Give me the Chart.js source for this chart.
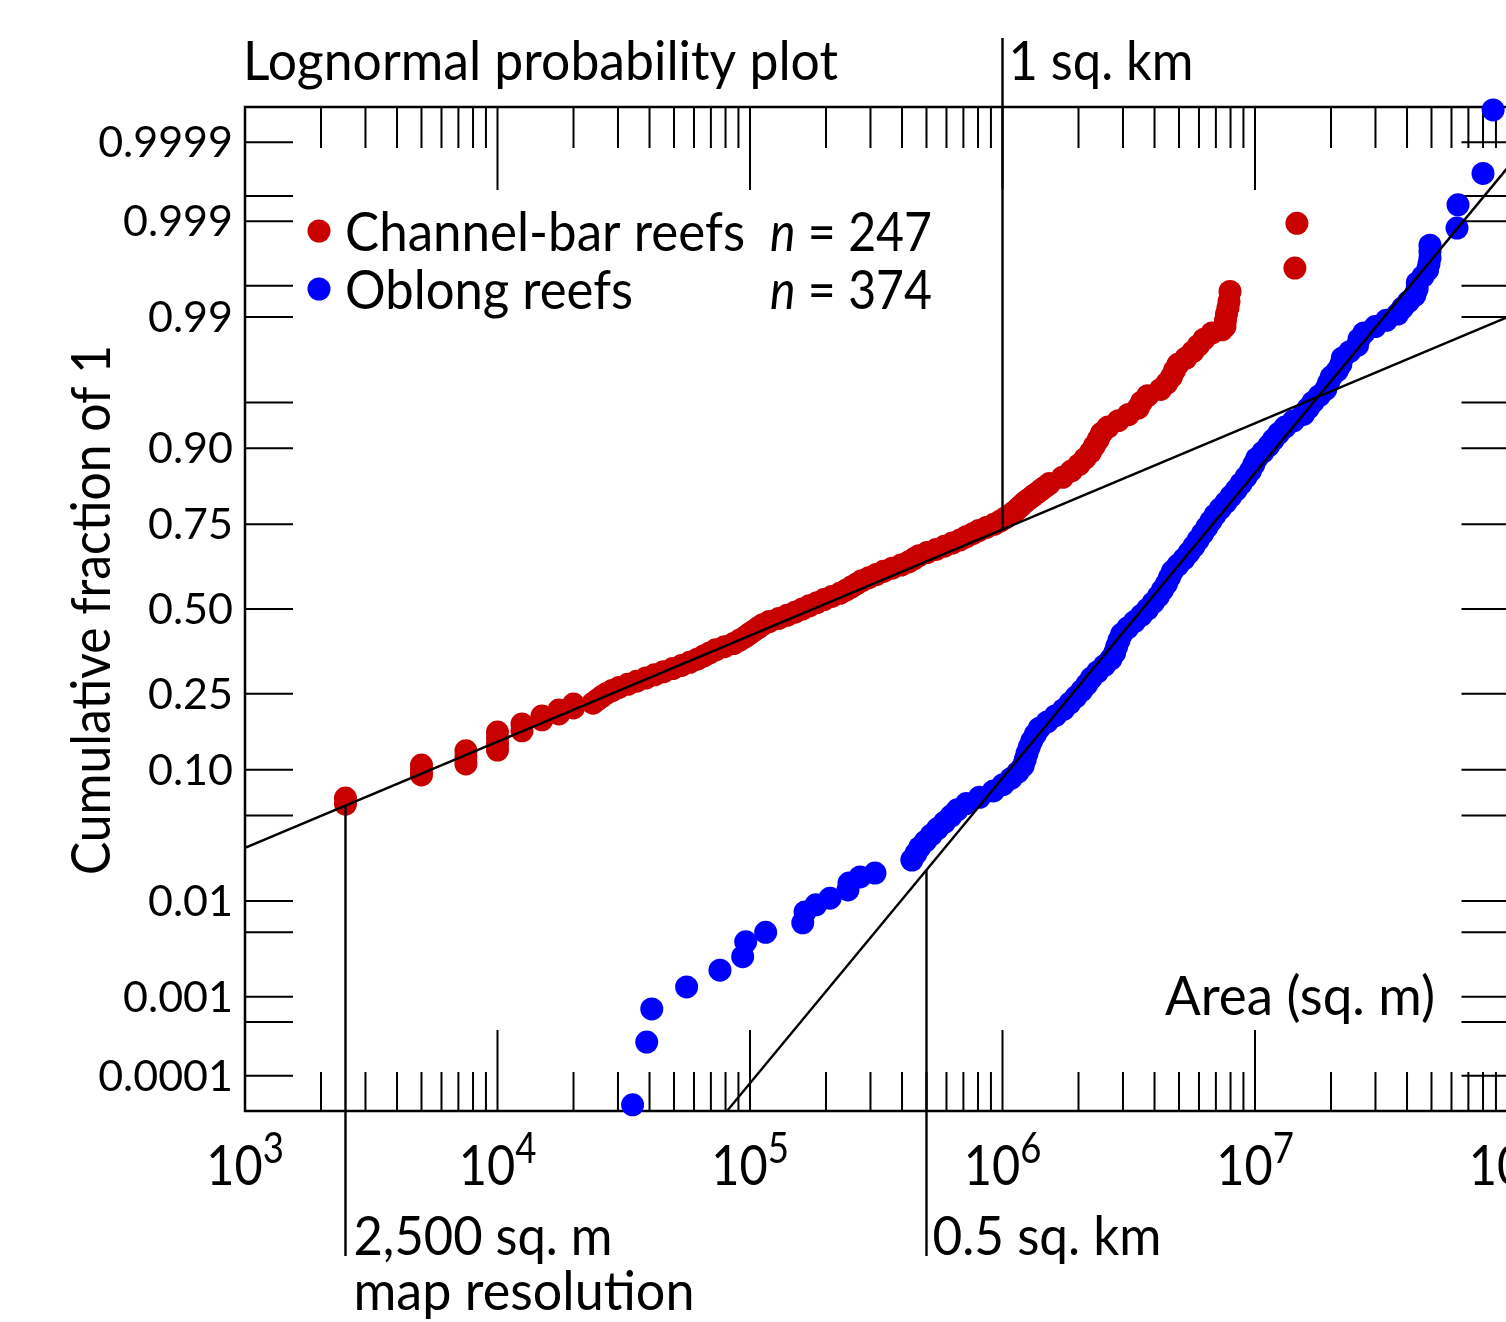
<!DOCTYPE html>
<html>
<head>
<meta charset="utf-8">
<title>Lognormal probability plot</title>
<script src="https://cdn.jsdelivr.net/npm/chart.js@4.4.1/dist/chart.umd.min.js"></script>
<style>
  html, body { margin: 0; padding: 0; background: #fff; overflow: hidden; }
  canvas { display: block; }
</style>
</head>
<body>
<canvas id="plot" width="1560" height="1322"></canvas>
<script>
// reef areas as log10(sq. m), paired with cumulative fraction
const seriesNames = ['Channel-bar reefs', 'Oblong reefs'];
const seriesCounts = [247, 374];

const redLogArea = [
  3.398, 3.398, 3.699, 3.699, 3.699, 3.875, 3.875, 3.875, 4.000, 4.000, 4.000, 4.000,
  4.097, 4.097, 4.176, 4.176, 4.243, 4.243, 4.301, 4.301,
  4.378, 4.395, 4.412, 4.430, 4.454, 4.481, 4.516, 4.551, 4.587, 4.622,
  4.657, 4.694, 4.729, 4.761, 4.791, 4.816, 4.840, 4.864, 4.899, 4.935,
  4.958, 4.979, 4.996, 5.014, 5.032, 5.050, 5.076, 5.114, 5.147, 5.178,
  5.207, 5.235, 5.265, 5.293, 5.324, 5.356, 5.380, 5.401, 5.422, 5.442,
  5.471, 5.500, 5.529, 5.563, 5.598, 5.628, 5.649, 5.669, 5.701, 5.737,
  5.770, 5.801, 5.832, 5.856, 5.882, 5.906, 5.936, 5.966, 5.990, 6.010,
  6.030, 6.047, 6.061, 6.074, 6.088, 6.104, 6.120, 6.137, 6.153, 6.170,
  6.186, 6.238, 6.273, 6.303, 6.327, 6.349, 6.364, 6.379, 6.392, 6.418,
  6.459, 6.499, 6.537, 6.551, 6.575, 6.626, 6.651, 6.669, 6.681, 6.695,
  6.727, 6.754, 6.776, 6.798, 6.830, 6.869, 6.881, 6.883, 6.887, 6.893,
  6.897, 6.901, 7.158, 7.166
];
const redFraction = [
  0.0601, 0.0660, 0.0930, 0.0997, 0.1069, 0.1085, 0.1199, 0.1292, 0.1306, 0.1409, 0.1519, 0.1635,
  0.1660, 0.1799, 0.1885, 0.1968, 0.2015, 0.2104, 0.2152, 0.2245,
  0.2266, 0.2343, 0.2420, 0.2499, 0.2579, 0.2661, 0.2743, 0.2827, 0.2912, 0.2999,
  0.3085, 0.3175, 0.3264, 0.3355, 0.3446, 0.3539, 0.3632, 0.3726, 0.3821, 0.3917,
  0.4013, 0.4110, 0.4207, 0.4306, 0.4404, 0.4503, 0.4602, 0.4701, 0.4801, 0.4900,
  0.5000, 0.5100, 0.5199, 0.5299, 0.5398, 0.5497, 0.5596, 0.5694, 0.5793, 0.5890,
  0.5987, 0.6083, 0.6179, 0.6274, 0.6368, 0.6461, 0.6554, 0.6645, 0.6736, 0.6826,
  0.6915, 0.7002, 0.7088, 0.7173, 0.7258, 0.7340, 0.7422, 0.7501, 0.7580, 0.7657,
  0.7734, 0.7808, 0.7881, 0.7952, 0.8023, 0.8091, 0.8159, 0.8224, 0.8289, 0.8351,
  0.8413, 0.8531, 0.8643, 0.8749, 0.8849, 0.8944, 0.9032, 0.9115, 0.9192, 0.9265,
  0.9332, 0.9394, 0.9452, 0.9505, 0.9554, 0.9599, 0.9641, 0.9678, 0.9713, 0.9744,
  0.97725, 0.97982, 0.98214, 0.98422, 0.98610, 0.98694, 0.98778, 0.98928, 0.99061, 0.99180,
  0.99286, 0.99430, 0.99670, 0.99894
];

const blueLogArea = [
  4.535, 4.591, 4.611, 4.749, 4.881, 4.971, 4.983, 5.062, 5.209, 5.218,
  5.261, 5.317, 5.388, 5.392, 5.436, 5.495,
  5.641, 5.657, 5.672, 5.695, 5.718, 5.743, 5.770, 5.796, 5.821, 5.857,
  5.909, 5.964, 6.002, 6.034, 6.061, 6.082, 6.090, 6.097, 6.106, 6.116,
  6.130, 6.146, 6.177, 6.210, 6.242, 6.267, 6.291, 6.314, 6.334, 6.352,
  6.377, 6.404, 6.429, 6.444, 6.452, 6.461, 6.472, 6.496, 6.523, 6.550,
  6.575, 6.597, 6.617, 6.633, 6.649, 6.661, 6.673, 6.695, 6.719, 6.739,
  6.758, 6.775, 6.792, 6.809, 6.825, 6.842, 6.863, 6.885, 6.905, 6.926,
  6.945, 6.964, 6.982, 6.995, 7.007, 7.031, 7.054, 7.073, 7.094, 7.119,
  7.153, 7.192, 7.211, 7.230, 7.255, 7.280, 7.291, 7.302, 7.326, 7.340,
  7.346, 7.375, 7.406, 7.412, 7.431, 7.476, 7.520, 7.565, 7.585, 7.608,
  7.633, 7.642, 7.643, 7.665, 7.683, 7.689, 7.693, 7.693, 7.693,
  7.800, 7.804, 7.903, 7.943
];
const blueFraction = [
  0.000039, 0.00028, 0.00072, 0.0013, 0.0020, 0.0028, 0.0040, 0.0050, 0.0062, 0.0079,
  0.0092, 0.0106, 0.0126, 0.0145, 0.0164, 0.0177,
  0.02275, 0.02559, 0.02872, 0.03216, 0.03593, 0.04006, 0.04457, 0.04947, 0.05480, 0.06057,
  0.06681, 0.07353, 0.08076, 0.08851, 0.09680, 0.10565, 0.11507, 0.12507, 0.13567, 0.14686,
  0.15866, 0.17106, 0.18406, 0.19766, 0.21186, 0.22663, 0.24196, 0.25785, 0.27425, 0.29116,
  0.30854, 0.32636, 0.34458, 0.36317, 0.38209, 0.40129, 0.42074, 0.44038, 0.46017, 0.48006,
  0.50000, 0.51994, 0.53983, 0.55962, 0.57926, 0.59871, 0.61791, 0.63683, 0.65542, 0.67364,
  0.69146, 0.70884, 0.72575, 0.74215, 0.75804, 0.77337, 0.78814, 0.80234, 0.81594, 0.82894,
  0.84134, 0.85314, 0.86433, 0.87493, 0.88493, 0.89435, 0.90320, 0.91149, 0.91924, 0.92647,
  0.93319, 0.93943, 0.94520, 0.95053, 0.95543, 0.95994, 0.96407, 0.96784, 0.97128, 0.97441,
  0.97725, 0.97982, 0.98214, 0.98422, 0.98610, 0.98778, 0.98928, 0.99061, 0.99180, 0.99286,
  0.99379, 0.99461, 0.99534, 0.99598, 0.99653, 0.99702, 0.99744, 0.99781, 0.99813,
  0.99880, 0.99936, 0.99974, 0.999965
];

// lognormal fit lines, end points
const redFitLogArea = [3, 8];
const redFitFraction = [0.0285, 0.99];
const blueFitLogArea = [4.909, 8];
const blueFitFraction = [0.0000317, 0.99978];

// axes
const xDecades = [3, 4, 5, 6, 7, 8];
const yLabelled = [0.0001, 0.001, 0.01, 0.10, 0.25, 0.50, 0.75, 0.90, 0.99, 0.999, 0.9999];
const yLabelText = ['0.0001', '0.001', '0.01', '0.10', '0.25', '0.50', '0.75', '0.90', '0.99', '0.999', '0.9999'];
const yUnlabelled = [0.0005, 0.005, 0.05, 0.95, 0.995, 0.9995];

// reference areas marked with leader lines
const markerAreas = [2500, 500000, 1000000];
const markerText = [['2,500 sq. m', 'map resolution'], ['0.5 sq. km'], ['1 sq. km']];

const RED = '#c80000';
const BLUE = '#0000ff';
const FONT = 'Lato, "Open Sans", sans-serif';
const LINE_W = 2.4;

// inverse standard normal CDF (Acklam)
function probit(p) {
  const a = [-3.969683028665376e+01, 2.209460984245205e+02, -2.759285104469687e+02,
             1.383577518672690e+02, -3.066479806614716e+01, 2.506628277459239e+00];
  const b = [-5.447609879822406e+01, 1.615858368580409e+02, -1.556989798598866e+02,
             6.680131188771972e+01, -1.328068155288572e+01];
  const c = [-7.784894002430293e-03, -3.223964580411365e-01, -2.400758277161838e+00,
             -2.549732539343734e+00, 4.374664141464968e+00, 2.938163982698783e+00];
  const d = [7.784695709041462e-03, 3.224671290700398e-01, 2.445134137142996e+00,
             3.754408661907416e+00];
  const lo = 0.02425;
  if (p < lo) {
    const q = Math.sqrt(-2 * Math.log(p));
    return (((((c[0] * q + c[1]) * q + c[2]) * q + c[3]) * q + c[4]) * q + c[5]) /
           ((((d[0] * q + d[1]) * q + d[2]) * q + d[3]) * q + 1);
  }
  if (p > 1 - lo) {
    const q = Math.sqrt(-2 * Math.log(1 - p));
    return -(((((c[0] * q + c[1]) * q + c[2]) * q + c[3]) * q + c[4]) * q + c[5]) /
            ((((d[0] * q + d[1]) * q + d[2]) * q + d[3]) * q + 1);
  }
  const q = p - 0.5, r = q * q;
  return (((((a[0] * r + a[1]) * r + a[2]) * r + a[3]) * r + a[4]) * r + a[5]) * q /
         (((((b[0] * r + b[1]) * r + b[2]) * r + b[3]) * r + b[4]) * r + 1);
}

const toPoints = (logs, fracs) => logs.map((v, i) => ({ x: 10 ** v, y: probit(fracs[i]) }));

// normal score of a fit line at a given area
function fitScore(logs, fracs, area) {
  const z0 = probit(fracs[0]), z1 = probit(fracs[1]);
  const t = (Math.log10(area) - logs[0]) / (logs[1] - logs[0]);
  return z0 + t * (z1 - z0);
}

const fontFor = (r, size) => (r.italic ? 'italic ' : '') + size + 'px ' + FONT;

// text squeezed horizontally into a given width
function fitText(ctx, runs, x, y, width, size) {
  let total = 0;
  for (const r of runs) {
    ctx.font = fontFor(r, size);
    r.w = ctx.measureText(r.text).width;
    total += r.w;
  }
  ctx.save();
  ctx.translate(x, y);
  ctx.scale(width / total, 1);
  ctx.textAlign = 'left';
  ctx.textBaseline = 'alphabetic';
  let cx = 0;
  for (const r of runs) {
    ctx.font = fontFor(r, size);
    ctx.fillText(r.text, cx, 0);
    cx += r.w;
  }
  ctx.restore();
}

const frame = {
  id: 'frame',
  beforeDatasetsDraw(chart) {
    const { ctx, scales: { x, y } } = chart;
    ctx.save();
    ctx.strokeStyle = '#000';
    ctx.lineWidth = 2.5;
    ctx.beginPath();
    ctx.moveTo(x.right + 2, y.top);
    ctx.lineTo(x.left, y.top);
    ctx.lineTo(x.left, y.bottom);
    ctx.lineTo(x.right + 2, y.bottom);
    ctx.stroke();

    ctx.lineWidth = 2;
    ctx.beginPath();
    // probability ticks on both sides
    for (const f of yLabelled.concat(yUnlabelled)) {
      const py = y.getPixelForValue(probit(f));
      ctx.moveTo(x.left, py); ctx.lineTo(x.left + 48, py);
      ctx.moveTo(x.right - 46, py); ctx.lineTo(x.right, py);
    }
    // log ticks, top and bottom
    for (const d of xDecades) {
      for (let k = 1; k <= 9; k++) {
        if (d === xDecades[xDecades.length - 1] && k > 1) break;
        const px = x.getPixelForValue(k * 10 ** d);
        const major = k === 1;
        if (major && d === xDecades[0]) continue;
        ctx.moveTo(px, y.bottom); ctx.lineTo(px, y.bottom - (major ? 81 : 39));
        ctx.moveTo(px, y.top); ctx.lineTo(px, y.top + (major ? 83 : 41));
      }
    }
    ctx.stroke();

    // probability labels
    ctx.fillStyle = '#000';
    ctx.font = '43px ' + FONT;
    ctx.textAlign = 'right';
    ctx.textBaseline = 'alphabetic';
    yLabelled.forEach((f, i) => {
      ctx.fillText(yLabelText[i], x.left - 12, y.getPixelForValue(probit(f)) + 15);
    });

    // decade labels 10^n
    for (const d of xDecades) {
      const px = x.getPixelForValue(10 ** d);
      ctx.font = '56px ' + FONT;
      const wb = ctx.measureText('10').width * 0.87;
      ctx.font = '42px ' + FONT;
      const ws = ctx.measureText(String(d)).width * 0.87;
      const left = px - (wb + ws) / 2;
      fitText(ctx, [{ text: '10' }], left, 1185, wb, 56);
      fitText(ctx, [{ text: String(d) }], left + wb, 1163, ws, 42);
    }
    ctx.restore();
  },
  afterDatasetsDraw(chart) {
    const { ctx, scales: { x, y } } = chart;
    ctx.save();
    ctx.strokeStyle = '#000';
    ctx.fillStyle = '#000';
    ctx.lineWidth = LINE_W;

    // leader lines from the fit lines
    const xr = x.getPixelForValue(markerAreas[0]);
    const yr = y.getPixelForValue(fitScore(redFitLogArea, redFitFraction, markerAreas[0]));
    const xb = x.getPixelForValue(markerAreas[1]);
    const yb = y.getPixelForValue(fitScore(blueFitLogArea, blueFitFraction, markerAreas[1]));
    const xk = x.getPixelForValue(markerAreas[2]);
    const yk = y.getPixelForValue(fitScore(redFitLogArea, redFitFraction, markerAreas[2]));
    ctx.beginPath();
    ctx.moveTo(xr, yr); ctx.lineTo(xr, 1256);
    ctx.moveTo(xb, yb); ctx.lineTo(xb, 1256);
    ctx.moveTo(xk, yk); ctx.lineTo(xk, 38);
    ctx.stroke();

    fitText(ctx, [{ text: markerText[0][0] }], xr + 8, 1255, 259, 54);
    fitText(ctx, [{ text: markerText[0][1] }], xr + 8, 1310, 341, 54);
    fitText(ctx, [{ text: markerText[1][0] }], xb + 6, 1255, 229, 54);
    fitText(ctx, [{ text: markerText[2][0] }], xk + 6, 80, 185, 54);

    // titles
    fitText(ctx, [{ text: 'Lognormal probability plot' }], 243, 80, 595, 54);
    fitText(ctx, [{ text: 'Area (sq. m)' }], 1165, 1015, 270, 54);
    ctx.save();
    ctx.translate(110, 875);
    ctx.rotate(-Math.PI / 2);
    fitText(ctx, [{ text: 'Cumulative fraction of 1' }], 0, 0, 530, 54);
    ctx.restore();

    // legend
    const colors = [RED, BLUE];
    const rows = [231, 289];
    const nameWidth = [400, 288];
    seriesNames.forEach((name, i) => {
      ctx.fillStyle = colors[i];
      ctx.beginPath();
      ctx.arc(319, rows[i], 11.5, 0, Math.PI * 2);
      ctx.fill();
      ctx.fillStyle = '#000';
      fitText(ctx, [{ text: name }], 345, rows[i] + 20, nameWidth[i], 54);
      fitText(ctx, [{ text: 'n', italic: true }, { text: ' = ' + seriesCounts[i] }], 770, rows[i] + 20, 162, 54);
    });
    ctx.restore();
  }
};

new Chart(document.getElementById('plot'), {
  type: 'scatter',
  data: {
    datasets: [
      {
        label: 'fit ' + seriesNames[0],
        data: toPoints(redFitLogArea, redFitFraction),
        showLine: true, borderColor: '#000', borderWidth: LINE_W, pointRadius: 0, order: 0
      },
      {
        label: 'fit ' + seriesNames[1],
        data: toPoints(blueFitLogArea, blueFitFraction),
        showLine: true, borderColor: '#000', borderWidth: LINE_W, pointRadius: 0, order: 0
      },
      {
        label: seriesNames[0],
        data: toPoints(redLogArea, redFraction),
        backgroundColor: RED, borderWidth: 0, pointRadius: 11.5, clip: false, order: 2
      },
      {
        label: seriesNames[1],
        data: toPoints(blueLogArea, blueFraction),
        backgroundColor: BLUE, borderWidth: 0, pointRadius: 11.5, clip: false, order: 1
      }
    ]
  },
  options: {
    responsive: false,
    animation: false,
    events: [],
    layout: { padding: { left: 245, top: 107, right: 52.5, bottom: 211 } },
    scales: {
      x: { type: 'logarithmic', min: 1e3, max: 1e8, display: false },
      y: { type: 'linear', min: -4, max: 4, display: false }
    },
    plugins: { legend: { display: false }, tooltip: { enabled: false } }
  },
  plugins: [frame]
});
</script>
</body>
</html>
